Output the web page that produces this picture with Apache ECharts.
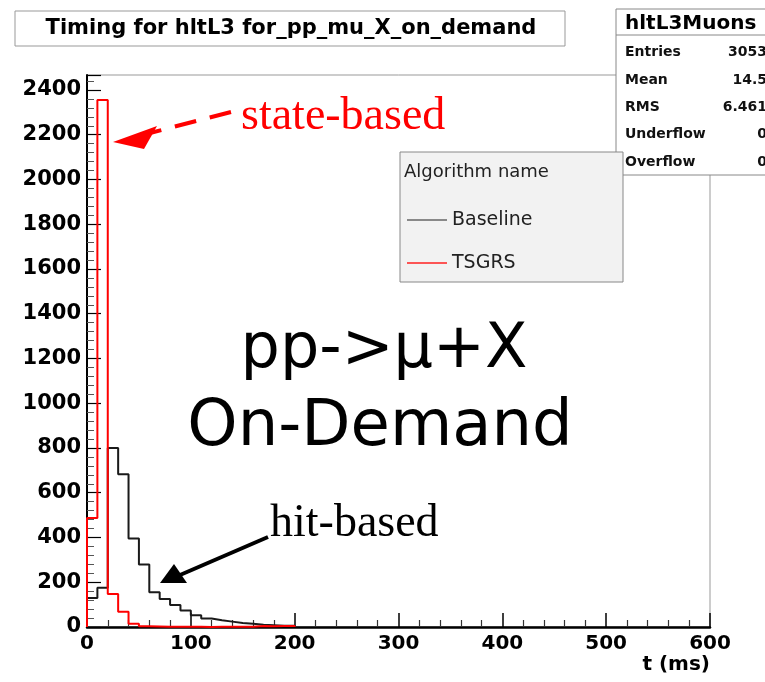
<!DOCTYPE html>
<html>
<head>
<meta charset="utf-8">
<script src="https://cdn.jsdelivr.net/npm/echarts@6/dist/echarts.min.js"></script>
<style>
html,body{margin:0;padding:0;background:#fff;}
#chart{width:765px;height:682px;}
</style>
</head>
<body>
<div id="chart"></div>
<script>
// ---- data ----
const binLow = [0,10,20,30,40,50,60,70,80,90,100,110,120,130,140,150,160,170,180,190];
const binWidth = 10;
const baseline = [130,175,800,683,395,279,155,125,98,74,52,38,30,24,18,14,10,8,6,6];
const tsgrs    = [487,2355,148,68,14,3,2,1,1,1,1,0,1,1,1,1,4,3,5,4];
const seriesNames = ['Baseline','TSGRS'];
const xTicks = [0,100,200,300,400,500,600];
const yTicks = [0,200,400,600,800,1000,1200,1400,1600,1800,2000,2200,2400];
const statsLabels = ['Entries','Mean','RMS','Underflow','Overflow'];
const statsValues = ['3053','14.5','6.461','0','0'];

function stepData(vals){
  const pts = [[binLow[0],0]];
  vals.forEach((v,i)=>pts.push([binLow[i],v]));
  const end = binLow[binLow.length-1]+binWidth;
  pts.push([end, vals[vals.length-1]]);
  pts.push([end, 0]);
  return pts;
}

const FONT = 'DejaVu Sans';
const chart = echarts.init(document.getElementById('chart'));

const statsGraphics = [];
statsLabels.forEach((l,i)=>{
  const y = [52,80,107,134,162][i];
  statsGraphics.push({type:'text', z:11, style:{x:625, y:y, text:l, font:'bold 14px "DejaVu Sans"', fill:'#111', align:'left', verticalAlign:'middle'}});
  statsGraphics.push({type:'text', z:11, style:{x:767, y:y, text:statsValues[i], font:'bold 14px "DejaVu Sans"', fill:'#111', align:'right', verticalAlign:'middle'}});
});

const option = {
  animation:false,
  backgroundColor:'#fff',
  grid:{left:87, right:55, top:75, bottom:55, show:true, borderColor:'#999', borderWidth:1, backgroundColor:'transparent'},
  xAxis:{
    type:'value', min:xTicks[0], max:xTicks[xTicks.length-1], interval:100,
    name:'t (ms)', nameLocation:'end', nameGap:0,
    nameTextStyle:{fontFamily:FONT, fontWeight:'bold', fontSize:20, color:'#000', align:'right', verticalAlign:'top', padding:[28,0,0,0]},
    axisLine:{lineStyle:{color:'#000', width:2.5}},
    axisTick:{inside:true, length:14, lineStyle:{color:'#000', width:1.5}},
    minorTick:{show:true, splitNumber:5, length:7, lineStyle:{color:'#333', width:1.2}},
    splitLine:{show:false},
    axisLabel:{fontFamily:FONT, fontWeight:'bold', fontSize:20, color:'#000', margin:7, formatter:v=>String(v)}
  },
  yAxis:{
    type:'value', min:yTicks[0], max:2467, interval:200,
    axisLine:{show:true, lineStyle:{color:'#000', width:2}},
    axisTick:{inside:true, length:14, lineStyle:{color:'#000', width:1.2}},
    minorTick:{show:true, splitNumber:5, length:7, lineStyle:{color:'#555', width:1}},
    splitLine:{show:false},
    axisLabel:{fontFamily:FONT, fontWeight:'bold', fontSize:21, color:'#000', margin:6, showMaxLabel:false, formatter:v=>String(v)}
  },
  legend:{
    data:[{name:seriesNames[0], icon:'rect', itemStyle:{color:'#666'}},{name:seriesNames[1], icon:'rect', itemStyle:{color:'#ff2020'}}],
    orient:'vertical', left:407, top:210, z:30, padding:0,
    itemWidth:40, itemHeight:1.5, itemGap:23, itemTextGap:11,
    textStyle:{fontFamily:FONT, fontSize:19, color:'#222', lineHeight:20}
  },
  series:[
    {name:seriesNames[0], type:'line', step:'end', symbol:'none', data:stepData(baseline),
     lineStyle:{color:'#1a1a1a', width:2}, itemStyle:{color:'#666'}, z:2},
    {name:seriesNames[1], type:'line', step:'end', symbol:'none', data:stepData(tsgrs),
     lineStyle:{color:'#ff0000', width:2}, itemStyle:{color:'#ff2020'}, z:3}
  ],
  graphic:{elements:[
    // title box
    {type:'rect', z:10, shape:{x:15, y:11, width:550, height:35}, style:{fill:'#fff', stroke:'#999', lineWidth:1}},
    {type:'text', z:11, style:{x:291, y:29, text:'Timing for hltL3 for_pp_mu_X_on_demand', font:'bold 21px "DejaVu Sans"', fill:'#000', align:'center', verticalAlign:'middle'}},
    // stats box
    {type:'rect', z:10, shape:{x:616, y:9, width:160, height:166}, style:{fill:'#fff', stroke:'#888', lineWidth:1}},
    {type:'line', z:11, shape:{x1:616, y1:35, x2:770, y2:35}, style:{stroke:'#888', lineWidth:1}},
    {type:'text', z:11, style:{x:625, y:24, text:'hltL3Muons', font:'bold 20px "DejaVu Sans"', fill:'#000', align:'left', verticalAlign:'middle'}},
    ...statsGraphics,
    // legend box
    {type:'rect', z:20, shape:{x:400, y:152, width:223, height:130}, style:{fill:'#f2f2f2', stroke:'#888', lineWidth:1}},
    {type:'text', z:21, style:{x:404, y:172, text:'Algorithm name', font:'18px "DejaVu Sans"', fill:'#222', align:'left', verticalAlign:'middle'}},
    // big text
    {type:'text', z:5, style:{x:384, y:351, text:'pp->\u03bc+X', font:'62px "DejaVu Sans"', fill:'#000', align:'center', verticalAlign:'middle'}},
    {type:'text', z:5, style:{x:380, y:428, text:'On-Demand', font:'64px "DejaVu Sans"', fill:'#000', align:'center', verticalAlign:'middle'}},
    // annotations
    {type:'text', z:40, style:{x:241, y:117, text:'state-based', font:'46px "Liberation Serif"', fill:'#ff0000', align:'left', verticalAlign:'middle'}},
    {type:'line', z:40, shape:{x1:231, y1:112, x2:150, y2:133}, style:{stroke:'#ff0000', lineWidth:4, lineDash:[22,14]}},
    {type:'polygon', z:40, shape:{points:[[113,142],[157,126],[144,149]]}, style:{fill:'#ff0000'}},
    {type:'text', z:40, style:{x:270, y:524, text:'hit-based', font:'46px "Liberation Serif"', fill:'#000', align:'left', verticalAlign:'middle'}},
    {type:'line', z:40, shape:{x1:268, y1:537, x2:180, y2:575}, style:{stroke:'#000', lineWidth:4}},
    {type:'polygon', z:40, shape:{points:[[160,583],[174,564],[187,583]]}, style:{fill:'#000'}}
  ]}
};
chart.setOption(option);
</script>
</body>
</html>
